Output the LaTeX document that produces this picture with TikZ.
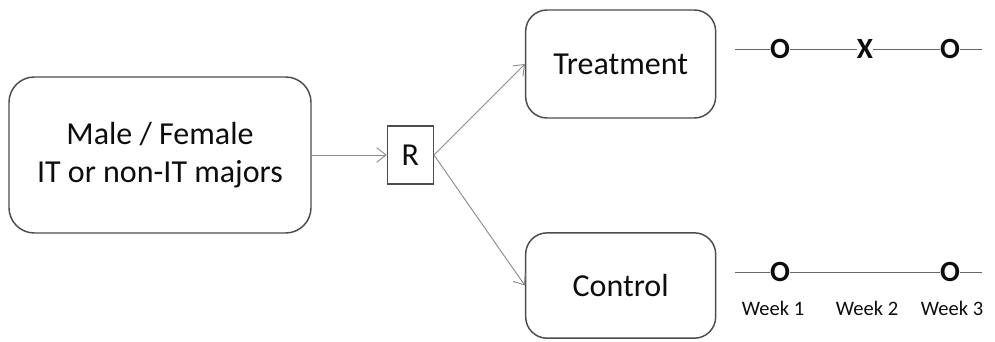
\documentclass[tikz,border=0pt]{standalone}
\usepackage{fontspec}
\setmainfont{Carlito}
\usetikzlibrary{positioning, arrows.meta}
\colorlet{boxColor}{black!70}
\colorlet{lineColor}{black!45}
\colorlet{textColor}{black!95}
\tikzstyle{group}=[draw=boxColor, line width=1.1pt, rounded corners=16pt, align=center, text=textColor, font=\fontsize{24}{29}\selectfont]
\tikzstyle{rbox}=[draw=boxColor, line width=0.9pt, text=textColor, font=\fontsize{24}{29}\selectfont, minimum width=34.5pt, minimum height=43.5pt, inner sep=0pt]
\tikzstyle{arrow}=[-{Straight Barb[length=7pt, width=11pt]}, line width=0.7pt, draw=lineColor]
\tikzstyle{timeline}=[line width=0.7pt, draw=black!60]
\tikzstyle{obs}=[text=textColor, font=\fontsize{22}{26}\selectfont\bfseries, fill=white, inner sep=0.3pt]
\tikzstyle{week}=[text=textColor, font=\fontsize{15.4}{18}\selectfont, inner sep=0pt]

\begin{document}
\begin{tikzpicture}[x=0.75pt, y=-0.75pt]
      \useasboundingbox (0,0) rectangle (995,342);
      \node (sample) [group, minimum width=226.5pt, minimum height=117pt, rounded corners=19pt] at (160,155) {Male / Female\\IT or non-IT majors};
      \node (random) [rbox, right=56.25pt of sample] {R};
      \node (treatment) [group, minimum width=142.5pt, minimum height=81pt, right=68.25pt of random, yshift=68.25pt] {Treatment};
      \node (control) [group, minimum width=142.5pt, minimum height=79pt, right=68.25pt of random, yshift=-97.9pt] {Control};
      \draw [arrow] (sample) -- (random);
      \draw [arrow] (random.east) -- (treatment.west);
      \draw [arrow] (random.east) -- (control.west);
      % observation lines
      \coordinate (tStart) at (735,49);
      \coordinate (tEnd) at (982,49);
      \coordinate (cStart) at (735,272);
      \coordinate (cEnd) at (982,272);
      \draw [timeline] (tStart) -- (tEnd);
      \draw [timeline] (cStart) -- (cEnd);
      \node (tPre) [obs] at (780,49) {O};
      \node (tTreat) [obs] at (865,49) {X};
      \node (tPost) [obs] at (950,49) {O};
      \node (cPre) [obs] at (780,272) {O};
      \node (cPost) [obs] at (950,272) {O};
      \node (week1) [week] at (773,308) {Week 1};
      \node (week2) [week] at (867,308) {Week 2};
      \node (week3) [week] at (952,308) {Week 3};
    \end{tikzpicture}
\end{document}
